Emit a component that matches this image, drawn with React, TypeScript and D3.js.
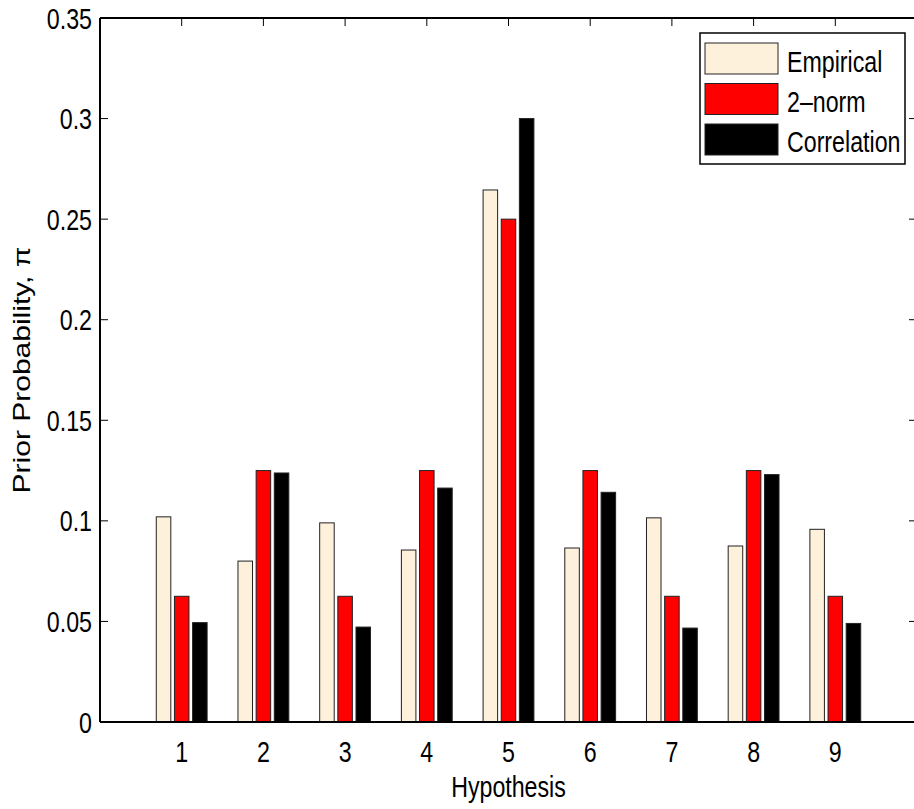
import React from "react";
import * as d3 from "d3";

const categories = ["1", "2", "3", "4", "5", "6", "7", "8", "9"];
const seriesNames = ["Empirical", "2\u2013norm", "Correlation"];
const empirical = [0.102, 0.08, 0.099, 0.0855, 0.2645, 0.0865, 0.1015, 0.0875, 0.0958];
const twoNorm = [0.0625, 0.125, 0.0625, 0.125, 0.25, 0.125, 0.0625, 0.125, 0.0625];
const correlation = [0.0494, 0.1238, 0.0472, 0.1163, 0.3, 0.1142, 0.0467, 0.123, 0.049];
const yTicks = [0, 0.05, 0.1, 0.15, 0.2, 0.25, 0.3, 0.35];
const yTickLabels = ["0", "0.05", "0.1", "0.15", "0.2", "0.25", "0.3", "0.35"];

const colors = ["#fdf1dc", "#ff0000", "#000000"];
const W = 914;
const H = 809;
const FONT = "'Liberation Sans', Arial, Helvetica, sans-serif";
const SX = 0.8;

function T({ x, y, anchor = "start", size = 29, children }: any) {
  return (
    <text
      transform={`translate(${x},${y}) scale(${SX},1)`}
      fontSize={size}
      textAnchor={anchor}
      fill="#000"
    >
      {children}
    </text>
  );
}

export default function App() {
  const x = d3.scaleLinear().domain([0, 10]).range([100, 917]);
  const y = d3.scaleLinear().domain([0, 0.35]).range([722, 18]);
  const series = [empirical, twoNorm, correlation];
  const offset = 0.2222;
  const bw = 0.1778;
  const tickLen = 8;

  return (
    <svg
      width={W}
      height={H}
      style={{ position: "absolute", left: 0, top: 0, background: "#fff" }}
      fontFamily={FONT}
    >
      <rect x={0} y={0} width={W} height={H} fill="#fff" />
      {categories.map((c, i) => (
        <line key={"bt" + c} x1={x(i + 1)} x2={x(i + 1)} y1={y(0)} y2={y(0) - tickLen} stroke="#000" strokeWidth={1} />
      ))}
      {series.map((vals, s) => (
        <g key={"s" + s}>
          {vals.map((v, i) => {
            const cx = i + 1 + (s - 1) * offset;
            const x0 = x(cx - bw / 2);
            const x1 = x(cx + bw / 2);
            return (
              <rect
                key={i}
                x={x0}
                y={y(v)}
                width={x1 - x0}
                height={y(0) - y(v)}
                fill={colors[s]}
                stroke="#222"
                strokeWidth={1}
              />
            );
          })}
        </g>
      ))}
      <line x1={x(0)} x2={x(0)} y1={y(0.35)} y2={y(0)} stroke="#000" strokeWidth={2} />
      <line x1={x(0)} x2={x(10)} y1={y(0)} y2={y(0)} stroke="#000" strokeWidth={2} />
      <line x1={x(0)} x2={x(10)} y1={y(0.35)} y2={y(0.35)} stroke="#000" strokeWidth={2} />
      <line x1={x(10)} x2={x(10)} y1={y(0.35)} y2={y(0)} stroke="#000" strokeWidth={2} />
      {categories.map((c, i) => (
        <line key={"tt" + c} x1={x(i + 1)} x2={x(i + 1)} y1={y(0.35)} y2={y(0.35) + tickLen} stroke="#000" strokeWidth={1} />
      ))}
      {yTicks.map((t) => (
        <g key={"yt" + t}>
          <line x1={x(0)} x2={x(0) + tickLen} y1={y(t)} y2={y(t)} stroke="#000" strokeWidth={1} />
          <line x1={x(10)} x2={x(10) - tickLen} y1={y(t)} y2={y(t)} stroke="#000" strokeWidth={1} />
        </g>
      ))}
      {yTicks.map((t, i) => (
        <T key={"yl" + t} x={x(0) - 8} y={y(t) + 10.5} anchor="end">
          {yTickLabels[i]}
        </T>
      ))}
      {categories.map((c, i) => (
        <T key={"xl" + c} x={x(i + 1)} y={762} anchor="middle">
          {c}
        </T>
      ))}
      <T x={x(5)} y={797} anchor="middle">
        Hypothesis
      </T>
      <text
        transform={`translate(30,${(y(0) + y(0.35)) / 2}) scale(${SX},1) rotate(-90)`}
        fontSize={30}
        textAnchor="middle"
        fill="#000"
      >
        Prior Probability, π
      </text>
      <rect x={700} y={33} width={205} height={131} fill="#fff" stroke="#000" strokeWidth={1.5} />
      {seriesNames.map((name, i) => (
        <g key={"lg" + i}>
          <rect x={705} y={43 + i * 40.5} width={73} height={31} fill={colors[i]} stroke="#222" strokeWidth={1} />
          <T x={787} y={72 + i * 40}>
            {name}
          </T>
        </g>
      ))}
    </svg>
  );
}
